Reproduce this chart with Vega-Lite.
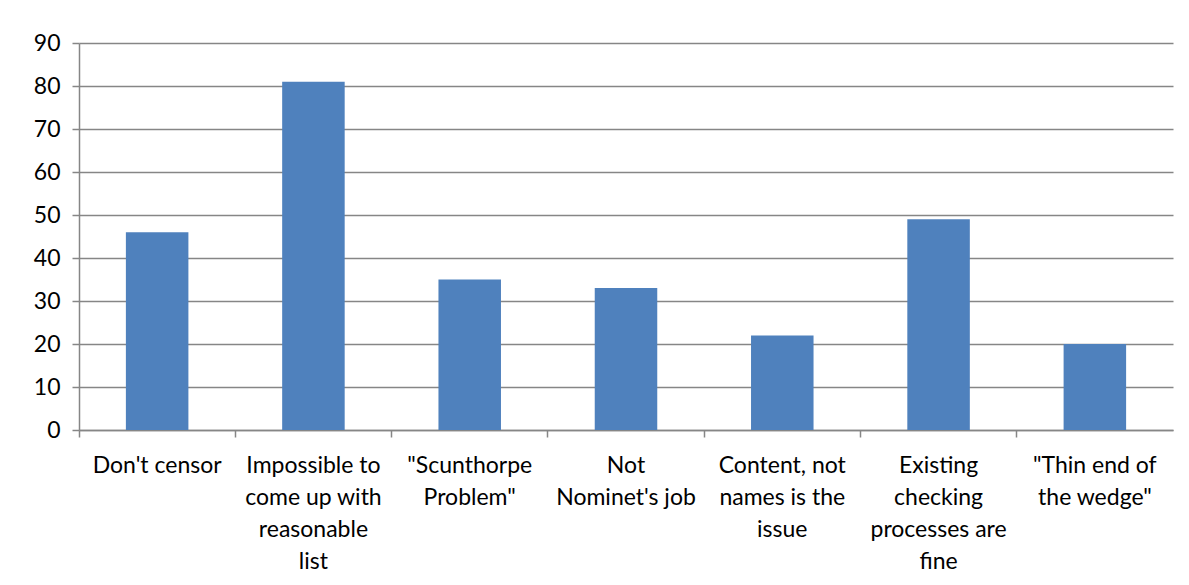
{
  "$schema": "https://vega.github.io/schema/vega-lite/v6.json",
  "width": 1094,
  "height": 387,
  "autosize": {"type": "none"},
  "padding": {"left": 79, "top": 43, "right": 16, "bottom": 155},
  "background": "white",
  "config": {
    "view": {"stroke": null},
    "font": "Lato"
  },
  "data": {
    "values": [
      {"reason": "Don't censor", "count": 46},
      {"reason": "Impossible to|come up with|reasonable|list", "count": 81},
      {"reason": "\"Scunthorpe|Problem\"", "count": 35},
      {"reason": "Not|Nominet's job", "count": 33},
      {"reason": "Content, not|names is the|issue", "count": 22},
      {"reason": "Existing|checking|processes are|fine", "count": 49},
      {"reason": "\"Thin end of|the wedge\"", "count": 20}
    ]
  },
  "mark": {"type": "bar", "color": "#4F81BD", "width": {"band": 0.4}},
  "encoding": {
    "x": {
      "field": "reason",
      "type": "nominal",
      "sort": null,
      "scale": {"paddingInner": 0, "paddingOuter": 0},
      "axis": {
        "title": null,
        "labelAngle": 0,
        "labelExpr": "split(datum.label, '|')",
        "labelFont": "Lato",
        "labelFontSize": 23,
        "labelColor": "#000000",
        "labelLineHeight": 32,
        "labelPadding": 17,
        "labelBaseline": "top",
        "labelLimit": 0,
        "bandPosition": 0,
        "tickColor": "#868686",
        "tickWidth": 1.5,
        "tickSize": 7,
        "domainColor": "#868686",
        "domainWidth": 1.5,
        "grid": false
      }
    },
    "y": {
      "field": "count",
      "type": "quantitative",
      "scale": {"domain": [0, 90], "nice": false},
      "axis": {
        "title": null,
        "values": [0, 10, 20, 30, 40, 50, 60, 70, 80, 90],
        "labelFont": "Lato",
        "labelFontSize": 23,
        "labelColor": "#000000",
        "labelPadding": 12,
        "tickColor": "#868686",
        "tickWidth": 1.5,
        "tickSize": 7,
        "domainColor": "#868686",
        "domainWidth": 1.5,
        "grid": true,
        "gridColor": "#868686",
        "gridWidth": 1.5
      }
    }
  }
}
